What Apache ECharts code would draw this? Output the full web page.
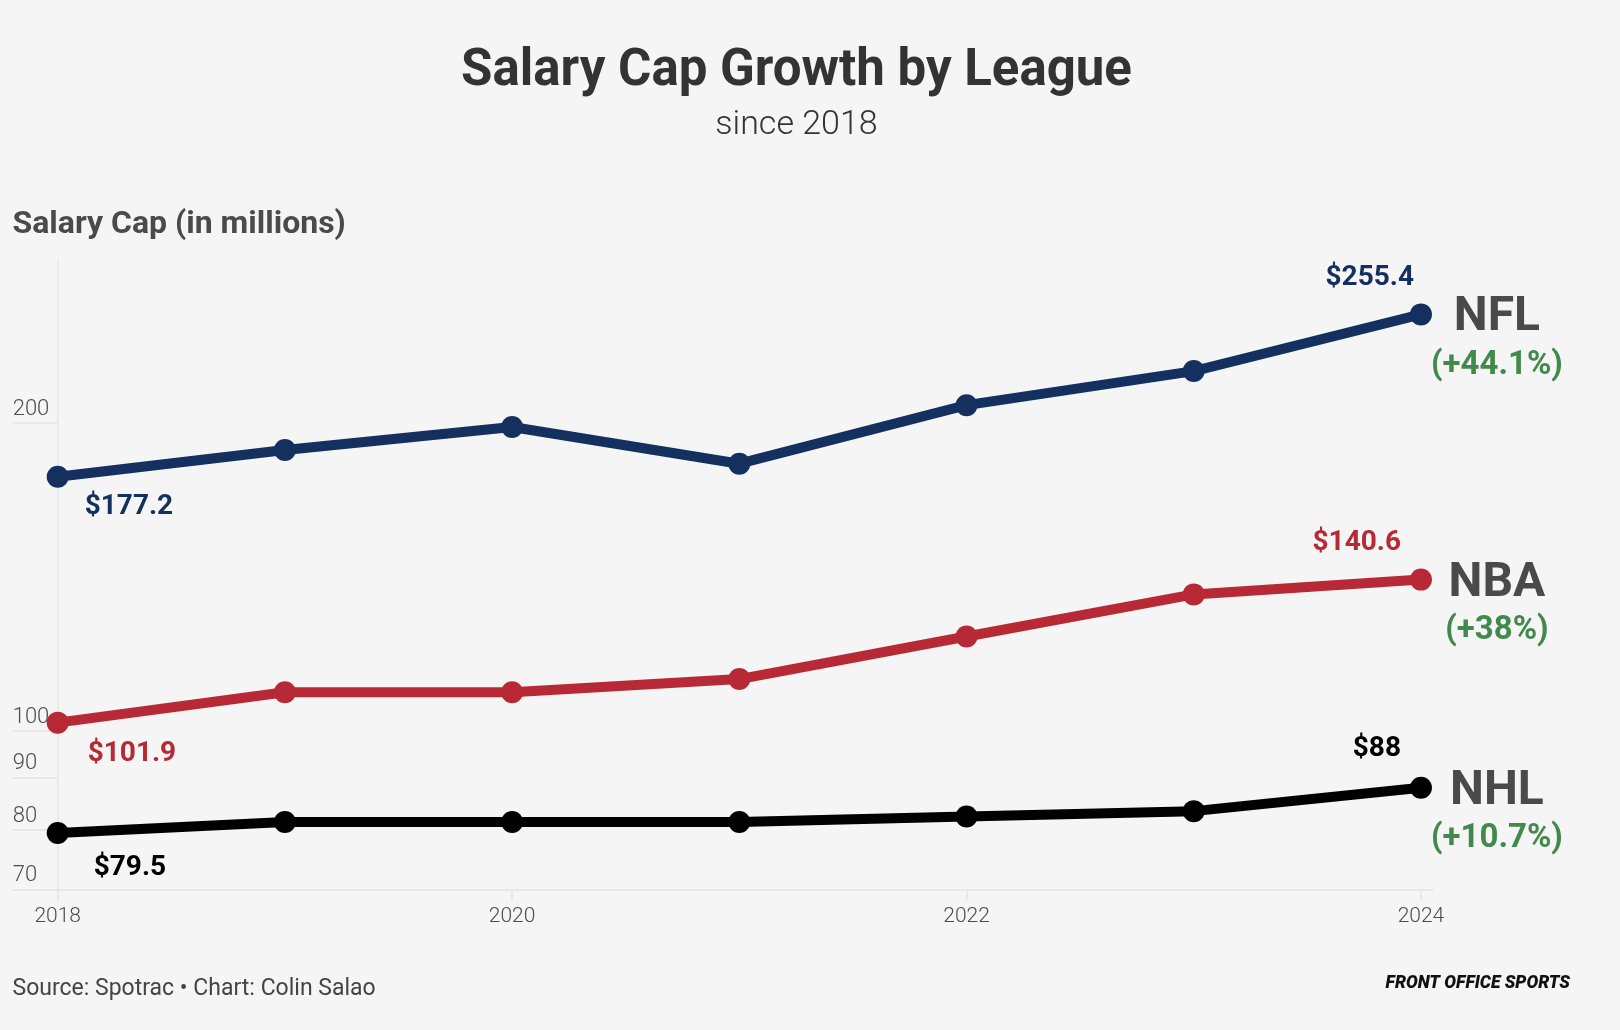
<!DOCTYPE html>
<html>
<head>
<meta charset="utf-8">
<script src="https://cdn.jsdelivr.net/npm/echarts@6/dist/echarts.min.js"></script>
<style>
  html, body { margin: 0; padding: 0; background: #f5f5f5; }
  #chart { width: 1620px; height: 1030px; }
</style>
</head>
<body>
<div id="chart"></div>
<script>
// ---- Data ----
const years = [2018, 2019, 2020, 2021, 2022, 2023, 2024];
const nfl = [177.2, 188.2, 198.2, 182.5, 208.2, 224.8, 255.4];
const nba = [101.9, 109.1, 109.1, 112.4, 123.7, 136.0, 140.6];
const nhl = [79.5, 81.5, 81.5, 81.5, 82.5, 83.5, 88.0];
const leagues = ['NFL', 'NBA', 'NHL'];
const growth = ['(+44.1%)', '(+38%)', '(+10.7%)'];
const yTicks = [70, 80, 90, 100, 200];
const xTicks = [2018, 2020, 2022, 2024];

// ---- Styles (not data) ----
const colors = ['#13305f', '#b72a35', '#000000'];
const startOffsets = [[27, 30], [30, 31], [36, 35]];
const endOffsets = [[-7, -36], [-20, -37], [-20, -39]];
const green = '#418a4c';
const font = 'Roboto';

const seriesValues = [nfl, nba, nhl];

function money(v) { return '$' + v; }

const lineSeries = seriesValues.map((vals, s) => ({
  name: leagues[s],
  type: 'line',
  silent: true,
  symbol: 'circle',
  symbolSize: 22,
  showSymbol: true,
  lineStyle: { width: 10, color: colors[s] },
  itemStyle: { color: colors[s] },
  z: 3 + s,
  data: years.map((y, i) => {
    const item = { value: [y, vals[i]] };
    if (i === 0 || i === years.length - 1) {
      const first = i === 0;
      item.label = {
        show: true,
        position: 'inside',
        align: first ? 'left' : 'right',
        verticalAlign: 'middle',
        offset: first ? startOffsets[s] : endOffsets[s],
        formatter: money(vals[i]),
        fontFamily: font,
        fontSize: 28,
        fontWeight: 'bold',
        color: colors[s]
      };
    }
    return item;
  })
}));

const nameSeries = seriesValues.map((vals, s) => ({
  name: leagues[s] + ' label',
  type: 'scatter',
  silent: true,
  symbol: 'circle',
  symbolSize: 1,
  itemStyle: { color: 'rgba(0,0,0,0)', opacity: 1 },
  z: 10,
  data: [{
    value: [years[years.length - 1], vals[vals.length - 1]],
    label: {
      show: true,
      position: 'inside',
      align: 'center',
      verticalAlign: 'top',
      offset: [76, -20],
      formatter: '{n|' + leagues[s] + '}\n{p|' + growth[s] + '}',
      rich: {
        n: { fontFamily: font, fontSize: 48, fontWeight: 'bold', color: '#4a4a4a', lineHeight: 48, align: 'center' },
        p: { fontFamily: font, fontSize: 33, fontWeight: 'bold', color: green, lineHeight: 46, align: 'center' }
      }
    }
  }]
}));

const chart = echarts.init(document.getElementById('chart'));
chart.setOption({
  backgroundColor: '#f5f5f5',
  animation: false,
  textStyle: { fontFamily: font },
  grid: { left: 57.7, right: 187, top: 261, bottom: 140.5 },
  xAxis: {
    type: 'value',
    min: 2018,
    max: 2024.053,
    axisLine: { show: true, lineStyle: { color: '#e4e4e4', width: 1.5 } },
    axisTick: { show: true, customValues: xTicks, length: 11, lineStyle: { color: '#e4e4e4', width: 1.5 } },
    axisLabel: {
      customValues: xTicks,
      formatter: v => String(v),
      fontFamily: font, fontSize: 21, fontWeight: 300, color: '#4d4d4d', margin: 17
    },
    splitLine: { show: false }
  },
  yAxis: {
    type: 'log',
    logBase: 10,
    min: 70,
    max: 288,
    axisLine: { show: true, lineStyle: { color: '#e4e4e4', width: 1.5 } },
    axisTick: { show: true, customValues: yTicks, length: 45, lineStyle: { color: '#e4e4e4', width: 1.5 } },
    axisLabel: {
      customValues: yTicks,
      formatter: v => String(Math.round(v)),
      align: 'left',
      verticalAlign: 'bottom',
      padding: [0, 0, 3, 0],
      margin: 45,
      fontFamily: font, fontSize: 22, fontWeight: 300, color: '#4d4d4d'
    },
    splitLine: { show: false }
  },
  graphic: [
    { type: 'text', x: 796.5, y: 72, silent: true,
      style: { text: 'Salary Cap Growth by League', font: 'bold 51px Roboto', fill: '#333', textAlign: 'center', textVerticalAlign: 'middle' } },
    { type: 'text', x: 796.5, y: 125, silent: true,
      style: { text: 'since 2018', font: '300 34px Roboto', fill: '#333', textAlign: 'center', textVerticalAlign: 'middle' } },
    { type: 'text', x: 12.5, y: 225, silent: true,
      style: { text: 'Salary Cap (in millions)', font: 'bold 32px Roboto', fill: '#4a4a4a', textAlign: 'left', textVerticalAlign: 'middle' } },
    { type: 'text', x: 12.5, y: 989, silent: true,
      style: { text: 'Source: Spotrac \u2022 Chart: Colin Salao', font: '400 23px Roboto', fill: '#444', textAlign: 'left', textVerticalAlign: 'middle' } },
    { type: 'text', x: 1570, y: 984, silent: true,
      style: { text: 'FRONT OFFICE SPORTS', font: 'italic 900 17.5px Roboto', fill: '#111', textAlign: 'right', textVerticalAlign: 'middle' } }
  ],
  series: lineSeries.concat(nameSeries)
});
</script>
</body>
</html>
